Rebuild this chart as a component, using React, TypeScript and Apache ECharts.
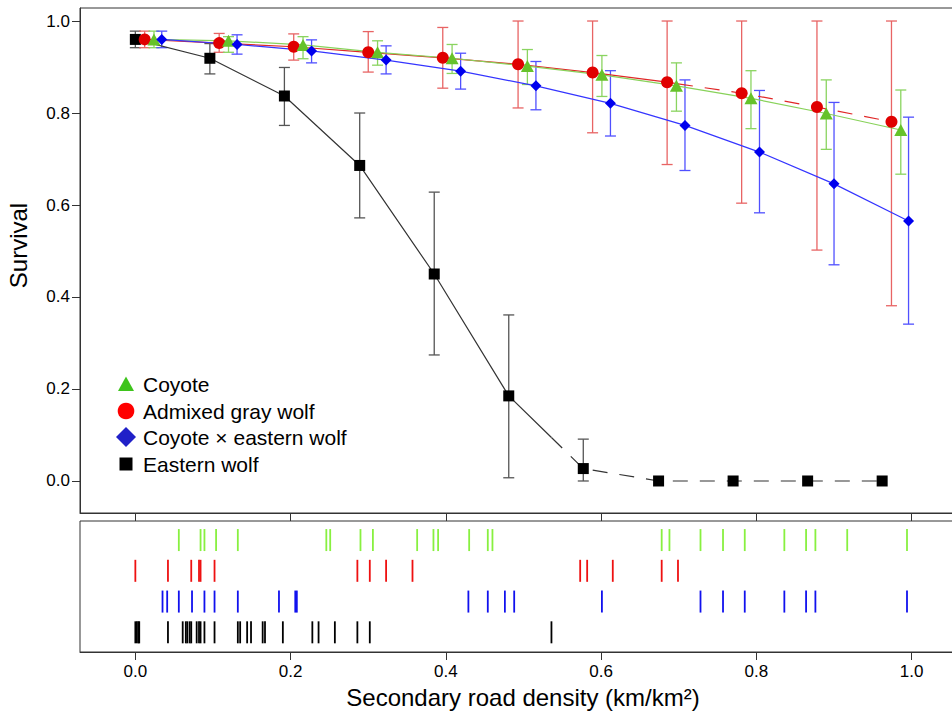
import React, { useEffect, useRef } from "react";
import * as echarts from "echarts";

// ---- axis ticks ----
const xTickValues = [0, 0.2, 0.4, 0.6, 0.8, 1.0];
const yTickValues = [0, 0.2, 0.4, 0.6, 0.8, 1.0];

// ---- survival points (x positions per group, survival, CI low, CI high) ----
const xEastern = [0.0, 0.096, 0.192, 0.289, 0.385, 0.481, 0.577, 0.674, 0.77, 0.866, 0.962];
const yEastern = [0.96, 0.919, 0.837, 0.686, 0.45, 0.185, 0.027, 0.0, 0.0, 0.0, 0.0];
const loEastern = [0.942, 0.885, 0.773, 0.572, 0.274, 0.007, 0.0, null, null, null, null];
const hiEastern = [0.978, 0.951, 0.899, 0.8, 0.628, 0.361, 0.091, null, null, null, null];

const xAdmixed = [0.012, 0.108, 0.204, 0.3, 0.396, 0.493, 0.589, 0.685, 0.781, 0.878, 0.974];
const yAdmixed = [0.96, 0.952, 0.944, 0.932, 0.92, 0.906, 0.888, 0.867, 0.843, 0.813, 0.781];
const loAdmixed = [0.942, 0.932, 0.915, 0.889, 0.854, 0.811, 0.757, 0.688, 0.604, 0.502, 0.381];
const hiAdmixed = [0.978, 0.973, 0.972, 0.977, 0.986, 1.0, 1.0, 1.0, 1.0, 1.0, 1.0];

const xCoyote = [0.024, 0.12, 0.216, 0.312, 0.408, 0.505, 0.601, 0.697, 0.793, 0.89, 0.986];
const yCoyote = [0.96, 0.957, 0.948, 0.932, 0.919, 0.902, 0.883, 0.859, 0.832, 0.799, 0.763];
const loCoyote = [0.942, 0.932, 0.918, 0.904, 0.886, 0.862, 0.836, 0.804, 0.766, 0.721, 0.667];
const hiCoyote = [0.978, 0.966, 0.966, 0.957, 0.949, 0.938, 0.925, 0.909, 0.892, 0.872, 0.85];

const xHybrid = [0.034, 0.131, 0.227, 0.323, 0.419, 0.516, 0.612, 0.708, 0.804, 0.9, 0.996];
const yHybrid = [0.96, 0.949, 0.935, 0.915, 0.891, 0.859, 0.821, 0.773, 0.715, 0.646, 0.565];
const loHybrid = [0.942, 0.928, 0.909, 0.885, 0.852, 0.807, 0.75, 0.675, 0.583, 0.47, 0.341];
const hiHybrid = [0.978, 0.97, 0.959, 0.946, 0.93, 0.912, 0.892, 0.872, 0.849, 0.823, 0.791];

// ---- rug (observed road densities) ----
const rugCoyote = [0.056, 0.084, 0.089, 0.104, 0.132, 0.246, 0.251, 0.29, 0.306, 0.363, 0.384, 0.39, 0.43, 0.454, 0.46, 0.678, 0.688, 0.728, 0.757, 0.785, 0.836, 0.864, 0.876, 0.917, 0.994];
const rugAdmixed = [0.0, 0.042, 0.072, 0.082, 0.084, 0.102, 0.286, 0.302, 0.323, 0.357, 0.573, 0.582, 0.615, 0.678, 0.699];
const rugHybrid = [0.035, 0.041, 0.056, 0.073, 0.089, 0.102, 0.132, 0.185, 0.206, 0.208, 0.429, 0.454, 0.476, 0.488, 0.601, 0.728, 0.757, 0.785, 0.836, 0.864, 0.876, 0.994];
const rugEastern = [0.0, 0.002, 0.004, 0.005, 0.042, 0.061, 0.065, 0.067, 0.07, 0.072, 0.079, 0.082, 0.084, 0.089, 0.102, 0.132, 0.135, 0.144, 0.149, 0.164, 0.167, 0.19, 0.228, 0.236, 0.257, 0.286, 0.302, 0.536];

const legendNames = ["Coyote", "Admixed gray wolf", "Coyote \u00d7 eastern wolf", "Eastern wolf"];

const FONT = '"Liberation Sans", Arial, Helvetica, sans-serif';

type Group = {
  name: string;
  xs: number[];
  ys: number[];
  lo: (number | null)[];
  hi: (number | null)[];
  rug: number[];
  rugRow: number;
  symbol: string;
  symbolSize: number | number[];
  markerColor: string;
  lineColor: string;
  barColor: string;
  rugColor: string;
};

const groups: Group[] = [
  { name: legendNames[3], xs: xEastern, ys: yEastern, lo: loEastern, hi: hiEastern, rug: rugEastern, rugRow: 1, symbol: "rect", symbolSize: 11, markerColor: "#000000", lineColor: "#333333", barColor: "#555555", rugColor: "#000000" },
  { name: legendNames[1], xs: xAdmixed, ys: yAdmixed, lo: loAdmixed, hi: hiAdmixed, rug: rugAdmixed, rugRow: 3, symbol: "circle", symbolSize: 12, markerColor: "#e00000", lineColor: "#e02828", barColor: "#e86464", rugColor: "#ee1111" },
  { name: legendNames[0], xs: xCoyote, ys: yCoyote, lo: loCoyote, hi: hiCoyote, rug: rugCoyote, rugRow: 4, symbol: "triangle", symbolSize: [13, 12], markerColor: "#66c22a", lineColor: "#88d25a", barColor: "#8ad460", rugColor: "#88f040" },
  { name: legendNames[2], xs: xHybrid, ys: yHybrid, lo: loHybrid, hi: hiHybrid, rug: rugHybrid, rugRow: 2, symbol: "diamond", symbolSize: 11, markerColor: "#0000ee", lineColor: "#3535ff", barColor: "#5050ff", rugColor: "#1111ee" },
];

// split a polyline into a solid part (inside observed data range) and dashed part (extrapolated)
function splitLine(xs: number[], ys: number[], limit: number) {
  const solid: number[][] = [];
  const dashed: number[][] = [];
  for (let i = 0; i < xs.length; i++) {
    if (xs[i] <= limit) solid.push([xs[i], ys[i]]);
  }
  const k = solid.length;
  if (k < xs.length && k > 0) {
    const t = (limit - xs[k - 1]) / (xs[k] - xs[k - 1]);
    const yb = ys[k - 1] + t * (ys[k] - ys[k - 1]);
    solid.push([limit, yb]);
    dashed.push([limit, yb]);
    for (let i = k; i < xs.length; i++) dashed.push([xs[i], ys[i]]);
  }
  return { solid, dashed };
}

const X_MIN = -0.0713;
const X_MAX = 1.07;
const PX_PER_UNIT = 776;
const GRID_W = Math.round((X_MAX - X_MIN) * PX_PER_UNIT);

export default function App() {
  const ref = useRef<HTMLDivElement>(null);
  useEffect(() => {
    if (!ref.current) return;
    const chart = echarts.init(ref.current, undefined, { renderer: "svg" });

    const series: any[] = [];
    // error bars
    groups.forEach((g) => {
      const data = g.xs
        .map((x, i) => [x, g.lo[i], g.hi[i]])
        .filter((d) => d[1] !== null && d[2] !== null);
      series.push({
        type: "custom",
        name: g.name + " CI",
        xAxisIndex: 0,
        yAxisIndex: 0,
        data,
        encode: { x: 0, y: [1, 2] },
        silent: true,
        z: 2,
        renderItem: (_p: any, api: any) => {
          const x = api.value(0);
          const top = api.coord([x, api.value(2)]);
          const bot = api.coord([x, api.value(1)]);
          const w = 5.5;
          const style = { stroke: g.barColor, lineWidth: 1.3 };
          return {
            type: "group",
            children: [
              { type: "line", shape: { x1: top[0], y1: top[1], x2: bot[0], y2: bot[1] }, style },
              { type: "line", shape: { x1: top[0] - w, y1: top[1], x2: top[0] + w, y2: top[1] }, style },
              { type: "line", shape: { x1: bot[0] - w, y1: bot[1], x2: bot[0] + w, y2: bot[1] }, style },
            ],
          };
        },
      });
    });
    // lines
    groups.forEach((g) => {
      const { solid, dashed } = splitLine(g.xs, g.ys, Math.max(...g.rug));
      series.push({
        type: "line",
        name: g.name + " fit",
        xAxisIndex: 0,
        yAxisIndex: 0,
        data: solid,
        symbol: "none",
        showSymbol: false,
        silent: true,
        z: 3,
        lineStyle: { color: g.lineColor, width: 1.2, type: "solid" },
      });
      if (dashed.length) {
        series.push({
          type: "line",
          name: g.name + " extrapolated",
          xAxisIndex: 0,
          yAxisIndex: 0,
          data: dashed,
          symbol: "none",
          showSymbol: false,
          silent: true,
          z: 3,
          lineStyle: { color: g.lineColor, width: 1.2, type: [15, 12] },
        });
      }
    });
    // markers
    groups.forEach((g, gi) => {
      series.push({
        type: "scatter",
        name: g.name,
        xAxisIndex: 0,
        yAxisIndex: 0,
        data: g.xs.map((x, i) => [x, g.ys[i]]),
        symbol: g.symbol,
        symbolSize: g.symbolSize,
        itemStyle: { color: g.markerColor, opacity: 1 },
        z: 4 + gi,
      });
    });
    // rugs
    groups.forEach((g) => {
      series.push({
        type: "scatter",
        name: g.name + " rug",
        xAxisIndex: 1,
        yAxisIndex: 1,
        data: g.rug.map((x) => [x, g.rugRow]),
        symbol: "rect",
        symbolSize: [1.8, 22],
        itemStyle: { color: g.rugColor, opacity: 1 },
        silent: true,
      });
    });

    const axisLineStyle = { color: "#333333", width: 1 };
    const fmt = (v: number) => v.toFixed(1);

    const legendItems = [
      { shape: "triangle", color: "#3ec41c" },
      { shape: "circle", color: "#ff0000" },
      { shape: "diamond", color: "#2020c8" },
      { shape: "square", color: "#000000" },
    ];
    const legendY = [384, 411, 437, 464];
    const lx = 126;
    const graphics: any[] = [];
    legendItems.forEach((it, i) => {
      const cy = legendY[i];
      if (it.shape === "triangle") {
        graphics.push({ type: "polygon", shape: { points: [[lx - 8, cy + 7], [lx + 8, cy + 7], [lx, cy - 7.5]] }, style: { fill: it.color } });
      } else if (it.shape === "circle") {
        graphics.push({ type: "circle", shape: { cx: lx, cy, r: 8.3 }, style: { fill: it.color } });
      } else if (it.shape === "diamond") {
        graphics.push({ type: "polygon", shape: { points: [[lx - 10, cy], [lx, cy - 10], [lx + 10, cy], [lx, cy + 10]] }, style: { fill: it.color } });
      } else {
        graphics.push({ type: "rect", shape: { x: lx - 6.5, y: cy - 6.5, width: 13, height: 13 }, style: { fill: it.color } });
      }
      graphics.push({
        type: "text",
        x: 143,
        y: cy,
        style: { text: legendNames[i], fontSize: 21, fontFamily: FONT, fill: "#000", textVerticalAlign: "middle", textAlign: "left" },
      });
    });

    chart.setOption({
      animation: false,
      backgroundColor: "#ffffff",
      textStyle: { fontFamily: FONT },
      grid: [
        { left: 80, top: 8, width: GRID_W, height: 505, show: true, borderColor: "#333333", borderWidth: 1, backgroundColor: "transparent", outerBoundsMode: "none", containLabel: false },
        { left: 80, top: 521, width: GRID_W, height: 131, show: true, borderColor: "#333333", borderWidth: 1, backgroundColor: "transparent", outerBoundsMode: "none", containLabel: false },
      ],
      xAxis: [
        {
          type: "value", gridIndex: 0, min: X_MIN, max: X_MAX,
          axisLine: { show: true, onZero: false, lineStyle: axisLineStyle },
          axisTick: { show: true, length: 8, customValues: xTickValues, lineStyle: axisLineStyle },
          axisLabel: { show: false },
          splitLine: { show: false },
        },
        {
          type: "value", gridIndex: 1, min: X_MIN, max: X_MAX,
          axisLine: { show: true, onZero: false, lineStyle: axisLineStyle },
          axisTick: { show: true, length: 8, customValues: xTickValues, lineStyle: axisLineStyle },
          axisLabel: { show: true, customValues: xTickValues, formatter: fmt, fontSize: 17, color: "#000", margin: 11, fontFamily: FONT },
          splitLine: { show: false },
          name: "Secondary road density (km/km\u00b2)",
          nameLocation: "middle",
          nameGap: 33,
          nameTextStyle: { fontSize: 24, color: "#000", fontFamily: FONT },
        },
      ],
      yAxis: [
        {
          type: "value", gridIndex: 0, min: -0.0696, max: 1.0283,
          axisLine: { show: true, onZero: false, lineStyle: axisLineStyle },
          axisTick: { show: true, length: 8, customValues: yTickValues, lineStyle: axisLineStyle },
          axisLabel: { show: true, customValues: yTickValues, formatter: fmt, fontSize: 17, color: "#000", margin: 10, fontFamily: FONT },
          splitLine: { show: false },
          name: "Survival",
          nameLocation: "middle",
          nameGap: 50,
          nameTextStyle: { fontSize: 24, color: "#000", fontFamily: FONT, padding: [0, 0, 0, 30] },
        },
        {
          type: "value", gridIndex: 1, min: 0.36, max: 4.62, show: false,
          splitLine: { show: false },
        },
      ],
      series,
      graphic: graphics,
    });
    return () => chart.dispose();
  }, []);
  return <div ref={ref} style={{ position: "absolute", left: 0, top: 0, width: 952, height: 711, overflow: "hidden" }} />;
}
